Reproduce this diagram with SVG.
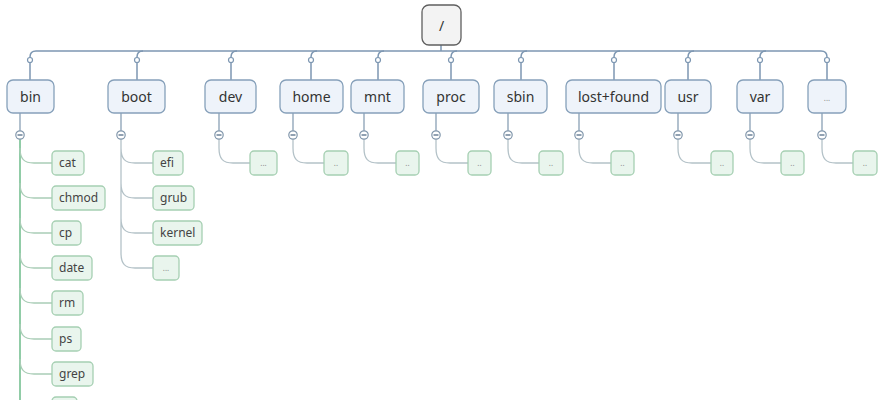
<svg xmlns="http://www.w3.org/2000/svg" width="888" height="400" viewBox="0 0 888 400">
<style>
.root{fill:#f3f3f3;stroke:#5f5f5f;stroke-width:1.3}
.top{fill:#eef3fa;stroke:#86a0ba;stroke-width:1.3}
.leaf{fill:#e9f5ed;stroke:#a5cfb2;stroke-width:1.3}
.t1{font-family:"Noto Sans","Open Sans",sans-serif;font-size:14px;fill:#333;text-anchor:middle}
.t2{font-family:"Noto Sans","Open Sans",sans-serif;font-size:12px;fill:#444}
.t3{font-family:"Noto Sans","Open Sans",sans-serif;font-size:8px;fill:#888;text-anchor:middle}
.bar{fill:none;stroke:#7d97b2;stroke-width:1.5}
.stem{fill:none;stroke:#8aa0b5;stroke-width:1.3}
.br{fill:none;stroke:#b4c2c8;stroke-width:1.3}
.grn{fill:none;stroke:#6cbb8a;stroke-width:1.5}
.brg{fill:none;stroke:#a9cdb6;stroke-width:1.3}
.dot{fill:#fff;stroke:#7d97b2;stroke-width:1.2}
.col{fill:#fff;stroke:#8096ab;stroke-width:1.2}
.minus{stroke:#6d8399;stroke-width:1.4}
</style>
<g id="connectors">
<path class="bar" d="M441,45 V51 M30,80 V57 Q30,51 36,51 H821 Q827,51 827,57 V80"/>
<path class="bar" d="M143,51 Q137,51 137,57 V80 M237,51 Q231,51 231,57 V80 M317,51 Q311,51 311,57 V80 M384,51 Q378,51 378,57 V80 M457,51 Q451,51 451,57 V80 M527,51 Q521,51 521,57 V80 M620,51 Q614,51 614,57 V80 M694,51 Q688,51 688,57 V80 M766,51 Q760,51 760,57 V80"/>
<g>
<circle class="dot" cx="30" cy="60" r="2.5"/><circle class="dot" cx="137" cy="60" r="2.5"/><circle class="dot" cx="231" cy="60" r="2.5"/><circle class="dot" cx="311" cy="60" r="2.5"/><circle class="dot" cx="378" cy="60" r="2.5"/><circle class="dot" cx="451" cy="60" r="2.5"/><circle class="dot" cx="521" cy="60" r="2.5"/><circle class="dot" cx="614" cy="60" r="2.5"/><circle class="dot" cx="688" cy="60" r="2.5"/><circle class="dot" cx="760" cy="60" r="2.5"/><circle class="dot" cx="827" cy="60" r="2.5"/>
</g>
<path class="stem" d="M20,113 V131 M121,113 V131 M219,113 V131 M293,113 V131 M364,113 V131 M436,113 V131 M508,113 V131 M579,113 V131 M678,113 V131 M750,113 V131 M822,113 V131"/>
<path class="grn" d="M20,139 V400"/>
<path class="brg" d="M20,148 C20,159 24,163 34,163 H52 M20,183 C20,194 24,198 34,198 H52 M20,218 C20,229 24,233 34,233 H52 M20,253 C20,264 24,268 34,268 H52 M20,288 C20,299 24,303 34,303 H52 M20,324 C20,335 24,339 34,339 H52 M20,359 C20,370 24,374 34,374 H52"/>
<path class="br" d="M121,139 V253 C121,264 125,268 135,268 H153 M121,148 C121,159 125,163 135,163 H153 M121,183 C121,194 125,198 135,198 H153 M121,218 C121,229 125,233 135,233 H153"/>
<path class="br" d="M219,139 V148 C219,159 223,163 233,163 H250 M293,139 V148 C293,159 297,163 307,163 H324 M364,139 V148 C364,159 368,163 378,163 H396 M436,139 V148 C436,159 440,163 450,163 H468 M508,139 V148 C508,159 512,163 522,163 H539 M579,139 V148 C579,159 583,163 593,163 H611 M678,139 V148 C678,159 682,163 692,163 H711 M750,139 V148 C750,159 754,163 764,163 H781 M822,139 V148 C822,159 826,163 836,163 H853"/>
<g>
<circle class="col" cx="20" cy="135" r="4.2"/><circle class="col" cx="121" cy="135" r="4.2"/><circle class="col" cx="219" cy="135" r="4.2"/><circle class="col" cx="293" cy="135" r="4.2"/><circle class="col" cx="364" cy="135" r="4.2"/><circle class="col" cx="436" cy="135" r="4.2"/><circle class="col" cx="508" cy="135" r="4.2"/><circle class="col" cx="579" cy="135" r="4.2"/><circle class="col" cx="678" cy="135" r="4.2"/><circle class="col" cx="750" cy="135" r="4.2"/><circle class="col" cx="822" cy="135" r="4.2"/>
<path class="minus" d="M17.5,135 H22.5 M118.5,135 H123.5 M216.5,135 H221.5 M290.5,135 H295.5 M361.5,135 H366.5 M433.5,135 H438.5 M505.5,135 H510.5 M576.5,135 H581.5 M675.5,135 H680.5 M747.5,135 H752.5 M819.5,135 H824.5"/>
</g>
</g>
<g id="root"><rect class="root" x="422" y="5" width="39" height="40" rx="7"/><text class="t1" x="441.5" y="31">/</text></g>
<g id="bin"><rect class="top" x="7" y="80" width="47" height="33" rx="6"/><text class="t1" x="30.5" y="102">bin</text></g>
<g id="boot"><rect class="top" x="108" y="80" width="57" height="33" rx="6"/><text class="t1" x="136.5" y="102">boot</text></g>
<g id="dev"><rect class="top" x="205" y="80" width="51" height="33" rx="6"/><text class="t1" x="230.5" y="102">dev</text></g>
<g id="home"><rect class="top" x="280" y="80" width="63" height="33" rx="6"/><text class="t1" x="311.5" y="102">home</text></g>
<g id="mnt"><rect class="top" x="351" y="80" width="53" height="33" rx="6"/><text class="t1" x="377.5" y="102">mnt</text></g>
<g id="proc"><rect class="top" x="423" y="80" width="56" height="33" rx="6"/><text class="t1" x="451" y="102">proc</text></g>
<g id="sbin"><rect class="top" x="494" y="80" width="53" height="33" rx="6"/><text class="t1" x="520.5" y="102">sbin</text></g>
<g id="lostfound"><rect class="top" x="566" y="80" width="95" height="33" rx="6"/><text class="t1" x="613.5" y="102">lost+found</text></g>
<g id="usr"><rect class="top" x="665" y="80" width="46" height="33" rx="6"/><text class="t1" x="688" y="102">usr</text></g>
<g id="var"><rect class="top" x="737" y="80" width="46" height="33" rx="6"/><text class="t1" x="760" y="102">var</text></g>
<g id="more"><rect class="top" x="808" y="80" width="38" height="33" rx="6"/><text class="t3" x="827" y="101">...</text></g>
<g id="bin-cat"><rect class="leaf" x="52" y="151" width="32" height="24" rx="4"/><text class="t2" x="59" y="167">cat</text></g>
<g id="bin-chmod"><rect class="leaf" x="52" y="186" width="53" height="24" rx="4"/><text class="t2" x="59" y="202">chmod</text></g>
<g id="bin-cp"><rect class="leaf" x="52" y="221" width="29" height="24" rx="4"/><text class="t2" x="59" y="237">cp</text></g>
<g id="bin-date"><rect class="leaf" x="52" y="256" width="40" height="24" rx="4"/><text class="t2" x="59" y="272">date</text></g>
<g id="bin-rm"><rect class="leaf" x="52" y="291" width="31" height="24" rx="4"/><text class="t2" x="59" y="307">rm</text></g>
<g id="bin-ps"><rect class="leaf" x="52" y="327" width="29" height="24" rx="4"/><text class="t2" x="59" y="343">ps</text></g>
<g id="bin-grep"><rect class="leaf" x="52" y="362" width="41" height="24" rx="4"/><text class="t2" x="59" y="378">grep</text></g>
<g id="bin-next"><rect class="leaf" x="52" y="397" width="25" height="24" rx="4"/></g>
<g id="boot-efi"><rect class="leaf" x="153" y="151" width="30" height="24" rx="4"/><text class="t2" x="160" y="167">efi</text></g>
<g id="boot-grub"><rect class="leaf" x="153" y="186" width="41" height="24" rx="4"/><text class="t2" x="160" y="202">grub</text></g>
<g id="boot-kernel"><rect class="leaf" x="153" y="221" width="49" height="24" rx="4"/><text class="t2" x="160" y="237">kernel</text></g>
<g id="boot-more"><rect class="leaf" x="153" y="256" width="26" height="24" rx="4"/><text class="t3" x="166" y="271">...</text></g>
<g id="dev-c"><rect class="leaf" x="250" y="151" width="27" height="24" rx="4"/><text class="t3" x="263.5" y="166">...</text></g>
<g id="home-c"><rect class="leaf" x="324" y="151" width="24" height="24" rx="4"/><text class="t3" x="336" y="166">..</text></g>
<g id="mnt-c"><rect class="leaf" x="396" y="151" width="23" height="24" rx="4"/><text class="t3" x="407.5" y="166">..</text></g>
<g id="proc-c"><rect class="leaf" x="468" y="151" width="23" height="24" rx="4"/><text class="t3" x="479.5" y="166">..</text></g>
<g id="sbin-c"><rect class="leaf" x="539" y="151" width="24" height="24" rx="4"/><text class="t3" x="551" y="166">..</text></g>
<g id="lostfound-c"><rect class="leaf" x="611" y="151" width="23" height="24" rx="4"/><text class="t3" x="622.5" y="166">..</text></g>
<g id="usr-c"><rect class="leaf" x="711" y="151" width="22" height="24" rx="4"/><text class="t3" x="722" y="166">..</text></g>
<g id="var-c"><rect class="leaf" x="781" y="151" width="23" height="24" rx="4"/><text class="t3" x="792.5" y="166">..</text></g>
<g id="more-c"><rect class="leaf" x="853" y="151" width="24" height="24" rx="4"/><text class="t3" x="865" y="166">..</text></g>
</svg>
